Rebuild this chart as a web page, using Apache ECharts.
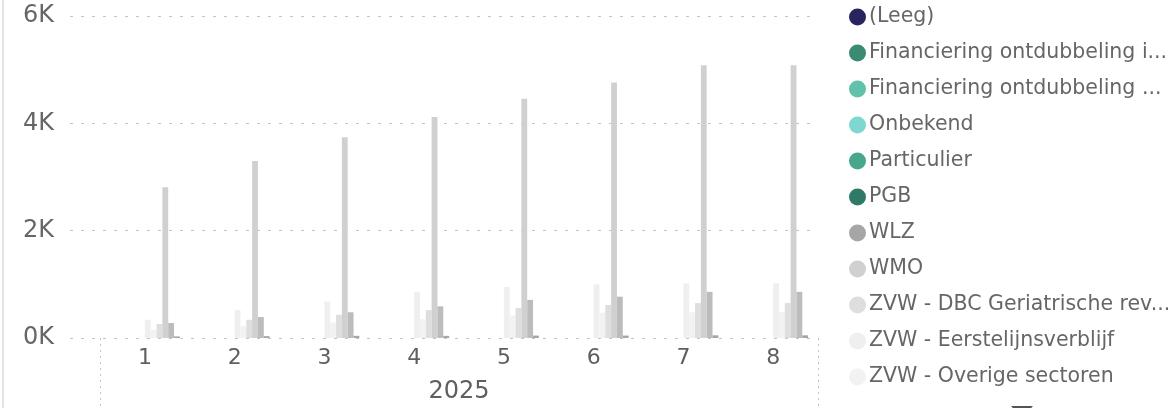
<!DOCTYPE html>
<html>
<head>
<meta charset="utf-8">
<script src="https://cdn.jsdelivr.net/npm/echarts@6/dist/echarts.min.js"></script>
<style>
  html, body { margin: 0; padding: 0; background: #fff; }
  #chart { width: 1174px; height: 408px; }
  #edge { position: absolute; left: 2px; top: 0; width: 2px; height: 408px; background: #e4e4e4; }
</style>
</head>
<body>
<div id="edge"></div>
<div id="chart"></div>
<script>
// categorieen (maanden) en het jaar eronder
var months = ["1", "2", "3", "4", "5", "6", "7", "8"];
var years = ["2025"];
var yTicks = [0, 2000, 4000, 6000];

// waarden per financieringsvorm
var leeg = [0, 0, 0, 0, 0, 0, 0, 0];
var finI = [0, 0, 0, 0, 0, 0, 0, 0];
var finB = [0, 0, 0, 0, 0, 0, 0, 0];
var onbekend = [0, 0, 0, 0, 0, 0, 0, 0];
var particulier = [0, 0, 0, 0, 0, 0, 0, 0];
var pgb = [0, 0, 0, 0, 0, 0, 0, 0];
var zvwEerst = [340, 520, 680, 860, 950, 1000, 1020, 1020];
var zvwOverig = [150, 220, 290, 350, 420, 470, 480, 480];
var zvwDbc = [260, 340, 430, 520, 560, 615, 650, 650];
var wmo = [2810, 3300, 3740, 4120, 4460, 4760, 5080, 5080];
var zvwWijk = [280, 390, 480, 590, 710, 770, 860, 860];
var wlz = [30, 35, 40, 40, 45, 45, 50, 50];

// volgorde in de legenda
var legendNames = [
  "(Leeg)",
  "Financiering ontdubbeling i...",
  "Financiering ontdubbeling ...",
  "Onbekend",
  "Particulier",
  "PGB",
  "WLZ",
  "WMO",
  "ZVW - DBC Geriatrische rev...",
  "ZVW - Eerstelijnsverblijf",
  "ZVW - Overige sectoren"
];

// volgorde van de staven binnen een groep
var seriesDefs = [
  { name: "(Leeg)", data: leeg, color: "#27245f" },
  { name: "Financiering ontdubbeling i...", data: finI, color: "#3b8a73" },
  { name: "Financiering ontdubbeling ...", data: finB, color: "#62c1aa" },
  { name: "Onbekend", data: onbekend, color: "#7fd8cf" },
  { name: "Particulier", data: particulier, color: "#46a78d" },
  { name: "PGB", data: pgb, color: "#2e7a67" },
  { name: "ZVW - Eerstelijnsverblijf", data: zvwEerst, color: "#efefef" },
  { name: "ZVW - Overige sectoren", data: zvwOverig, color: "#f2f2f2" },
  { name: "ZVW - DBC Geriatrische rev...", data: zvwDbc, color: "#dedede" },
  { name: "WMO", data: wmo, color: "#d0d0d0" },
  { name: "ZVW - Wijkverpleging", data: zvwWijk, color: "#bcbcbc" },
  { name: "WLZ", data: wlz, color: "#a6a6a6" }
];

var font = "DejaVu Sans";
var chart = echarts.init(document.getElementById("chart"), null, { renderer: "canvas" });

var series = seriesDefs.map(function (s) {
  return {
    name: s.name,
    type: "bar",
    xAxisIndex: 1,
    yAxisIndex: 1,
    barGap: "0%",
    barCategoryGap: "22%",
    itemStyle: { color: s.color },
    data: s.data
  };
});

var option = {
  animation: false,
  textStyle: { fontFamily: font },
  grid: [
    { left: 70, top: 16, width: 748, height: 322 },
    { left: 100, top: 16, width: 718, height: 322 }
  ],
  legend: {
    data: legendNames,
    orient: "vertical",
    left: 844,
    top: 1,
    icon: "circle",
    itemWidth: 17,
    itemHeight: 17,
    itemGap: 14,
    textStyle: { fontFamily: font, fontSize: 20.5, color: "#666", lineHeight: 22, padding: [0, 0, 0, -2] }
  },
  xAxis: [
    { gridIndex: 0, type: "category", data: [""], show: false },
    {
      gridIndex: 1,
      type: "category",
      data: months,
      axisLine: { show: false },
      axisTick: { show: false },
      axisLabel: { margin: 9, fontSize: 22, color: "#5f5f5f", fontFamily: font }
    },
    {
      gridIndex: 1,
      type: "category",
      data: years,
      position: "bottom",
      offset: 0,
      axisLine: { show: false },
      axisTick: { show: true, length: 68, lineStyle: { type: [2, 4], color: "#c4c4c4" } },
      axisLabel: { margin: 42, fontSize: 24, color: "#5f5f5f", fontFamily: font }
    }
  ],
  yAxis: [
    {
      gridIndex: 0,
      type: "value",
      min: yTicks[0],
      max: yTicks[yTicks.length - 1],
      interval: 2000,
      axisLine: { show: false },
      axisTick: { show: false },
      axisLabel: {
        margin: 16,
        fontSize: 24,
        color: "#666",
        fontFamily: font,
        formatter: function (v) { return v / 1000 + "K"; }
      },
      splitLine: { lineStyle: { type: [3, 8], color: "#c4c4c4", width: 1 } }
    },
    { gridIndex: 1, type: "value", min: 0, max: 6000, interval: 2000, show: false }
  ],
  graphic: [
    {
      type: "polygon",
      shape: { points: [[1011, 406], [1033, 406], [1022, 418]] },
      style: { fill: "#555" }
    }
  ],
  series: series
};

chart.setOption(option);
</script>
</body>
</html>
